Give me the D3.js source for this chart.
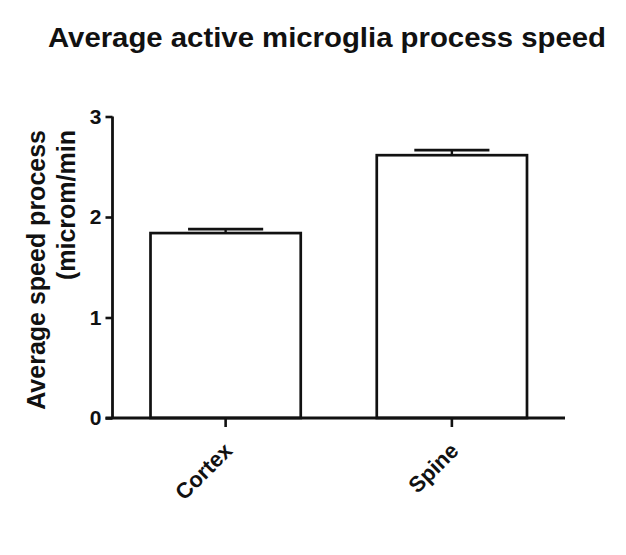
<!DOCTYPE html>
<html><head><meta charset="utf-8">
<script src="https://cdn.jsdelivr.net/npm/d3@7"></script>
<style>body{margin:0;background:#fff}text{font-family:"Liberation Sans",Arial,sans-serif;font-weight:bold;fill:#111}</style>
</head><body><svg id="c" width="626" height="555"></svg>
<script>
const categories = ["Cortex", "Spine"];
const means = [1.84, 2.615];
const sems = [0.04, 0.05];
const yTicks = [0, 1, 2, 3];
const title = "Average active microglia process speed";
const yLabel = ["Average speed process", "(microm/min"];

const svg = d3.select("#c");
const m = {l:112.5, r:61, t:116.5, b:137};
const W = 626, H = 555;
const x = d3.scaleBand().domain(categories).range([m.l, W - m.r]).paddingInner(0.336).paddingOuter(0.168);
const y = d3.scaleLinear().domain([0, 3]).range([H - m.b, m.t]);
const ink = "#111";

svg.append("text").attr("x", 327).attr("y", 47).attr("text-anchor", "middle")
  .attr("textLength", 558).attr("lengthAdjust", "spacingAndGlyphs")
  .style("font-size", "27px").text(title);

// bars
const g = svg.append("g");
g.selectAll("rect").data(categories).join("rect")
  .attr("x", d => x(d)).attr("width", x.bandwidth())
  .attr("y", (d, i) => y(means[i])).attr("height", (d, i) => y(0) - y(means[i]))
  .attr("fill", "#fff").attr("stroke", ink).attr("stroke-width", 2.7);
// error bars
categories.forEach((c, i) => {
  const cx = x(c) + x.bandwidth() / 2, hw = x.bandwidth() / 4;
  g.append("line").attr("x1", cx).attr("x2", cx).attr("y1", y(means[i])).attr("y2", y(means[i] + sems[i]))
    .attr("stroke", ink).attr("stroke-width", 2.4);
  g.append("line").attr("x1", cx - hw).attr("x2", cx + hw).attr("y1", y(means[i] + sems[i])).attr("y2", y(means[i] + sems[i]))
    .attr("stroke", ink).attr("stroke-width", 2.7);
});

// y axis
const ya = svg.append("g").attr("transform", `translate(${m.l},0)`)
  .call(d3.axisLeft(y).tickValues(yTicks).tickFormat(d3.format("d")).tickSize(7).tickPadding(4))
  .attr("font-size", 21).attr("font-family", "Liberation Sans, Arial").attr("font-weight", "bold");
ya.select(".domain").attr("stroke", ink).attr("stroke-width", 2.8).attr("d", `M0,${y(3)}V${y(0)}`);
ya.selectAll(".tick line").attr("stroke", ink).attr("stroke-width", 2.6);
ya.selectAll(".tick text").attr("font-size", 21).style("font-size", "21px").attr("fill", ink);

// x axis
const xa = svg.append("g").attr("transform", `translate(0,${y(0)})`)
  .call(d3.axisBottom(x).tickSize(9).tickPadding(6))
  .attr("font-size", 22).attr("font-family", "Liberation Sans, Arial").attr("font-weight", "bold");
xa.select(".domain").attr("stroke", ink).attr("stroke-width", 2.8).attr("d", `M${m.l - 7},0H${W - m.r}`);
xa.selectAll(".tick line").attr("stroke", ink).attr("stroke-width", 2.6);
xa.selectAll(".tick text").style("font-size", "22px").attr("fill", ink)
  .attr("text-anchor", "end").attr("dy", "0").attr("y", 0)
  .attr("transform", "translate(8,34) rotate(-45)");

// y label
const yl = svg.append("text").attr("transform", "translate(0,130) rotate(-90)").attr("text-anchor", "end").style("font-size", "25px");
yl.append("tspan").attr("x", 0).attr("y", 45).text(yLabel[0]);
yl.append("tspan").attr("x", 0).attr("y", 75).text(yLabel[1]);
</script></body></html>
